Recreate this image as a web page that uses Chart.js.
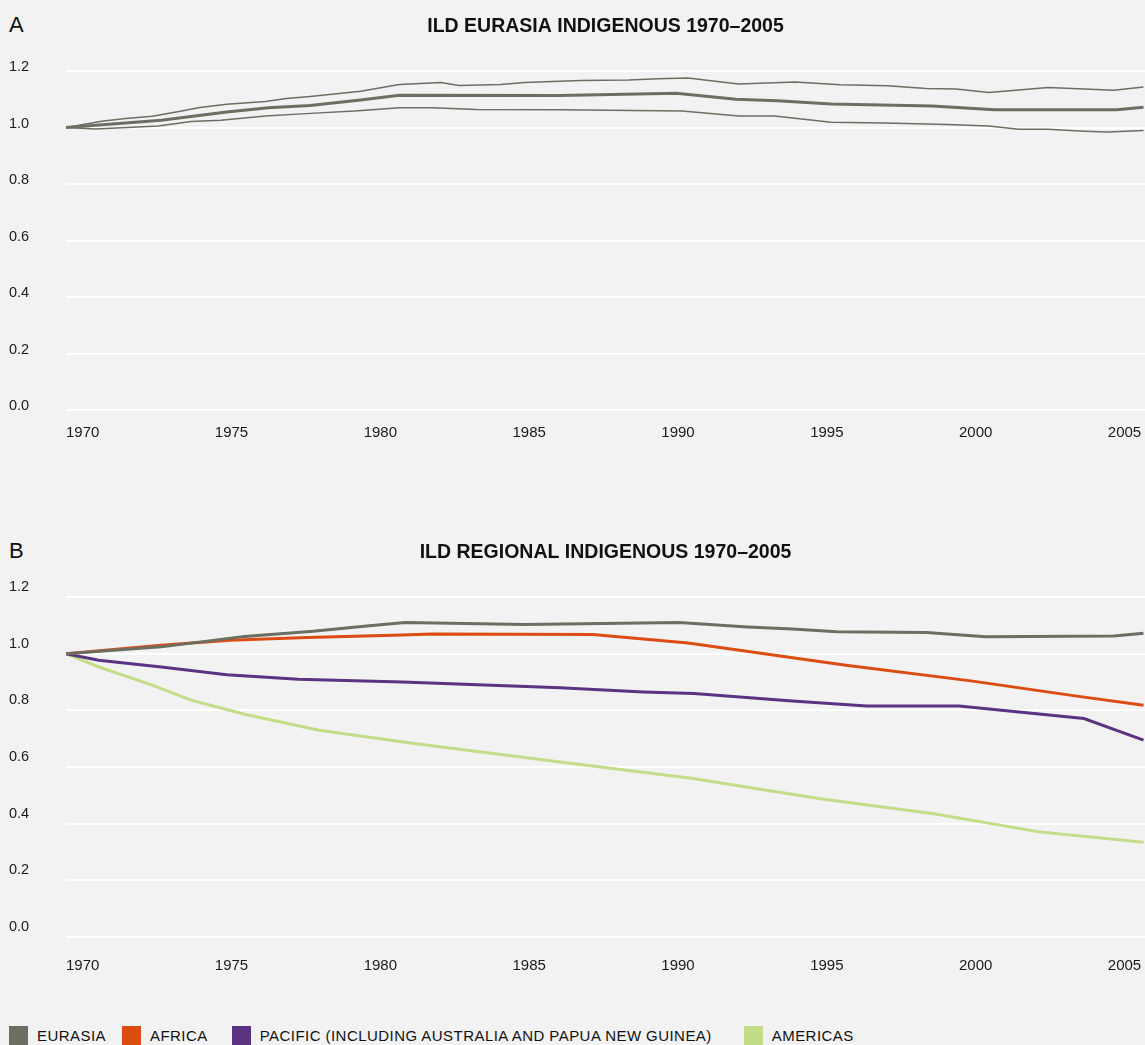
<!DOCTYPE html>
<html>
<head>
<meta charset="utf-8">
<script src="https://cdn.jsdelivr.net/npm/chart.js@4.4.1/dist/chart.umd.min.js"></script>
<style>
  html, body { margin: 0; padding: 0; background: #f2f2f2; }
  body { width: 1145px; height: 1045px; position: relative; overflow: hidden;
         font-family: "Liberation Sans", Arial, Helvetica, sans-serif; color: #111; }
  .letter { position: absolute; left: 9px; font-size: 22px; line-height: 22px; }
  canvas { position: absolute; left: 0; }
  #legend { position: absolute; left: 9px; top: 1026px; display: flex; align-items: center;
            font-size: 15px; letter-spacing: 0.45px; color: #111; }
  .item { display: flex; align-items: center; }
  .sw { width: 19px; height: 19px; margin-right: 9px; }
  .item:nth-child(1) { margin-right: 16px; }
  .item:nth-child(2) { margin-right: 24px; }
  .item:nth-child(3) { margin-right: 32px; }
</style>
</head>
<body>
<div class="letter" style="top:14px">A</div>
<div class="letter" style="top:540px">B</div>
<canvas id="chartA" width="1145" height="460" style="top:0"></canvas>
<canvas id="chartB" width="1145" height="470" style="top:526px"></canvas>
<div id="legend"></div>

<script>
// tick labels on the year axis
const tickYears = [1970, 1975, 1980, 1985, 1990, 1995, 2000, 2005]

// panel A: Eurasia with upper / lower bounds
const aUpperYears = [1970,1971.2,1972.0,1972.9,1973.8,1974.5,1975.4,1976.7,1977.4,1978.2,1979.9,1981.2,1982.6,1983.2,1984.6,1985.4,1987.3,1988.9,1989.9,1990.9,1991.6,1992.6,1994.5,1996.0,1997.6,1998.9,1999.9,2001.0,2003.0,2005.2,2006.2]
const aUpperValues = [1.0,1.022,1.032,1.040,1.057,1.071,1.082,1.092,1.103,1.110,1.128,1.152,1.159,1.149,1.152,1.159,1.166,1.168,1.173,1.175,1.166,1.154,1.161,1.151,1.148,1.138,1.136,1.124,1.142,1.132,1.143]

const aMidYears = [1970,1973.2,1975.4,1976.8,1978.2,1979.9,1981.2,1986.6,1990.5,1992.5,1993.9,1995.7,1999.1,2001.2,2005.3,2006.2]
const aMidValues = [1.0,1.026,1.055,1.070,1.078,1.097,1.114,1.113,1.121,1.100,1.095,1.083,1.076,1.063,1.063,1.072]

const aLowerYears = [1970,1971.0,1973.1,1974.2,1975.2,1976.7,1978.2,1979.7,1981.2,1982.3,1983.8,1986.6,1990.7,1992.6,1993.8,1995.7,1997.5,1999.6,2001.0,2002.0,2003.0,2004.2,2005.0,2006.2]
const aLowerValues = [1.0,0.995,1.005,1.021,1.026,1.041,1.050,1.058,1.070,1.070,1.064,1.063,1.058,1.041,1.041,1.019,1.016,1.011,1.005,0.994,0.994,0.987,0.984,0.989]

// panel B: regions
const regions = ['EURASIA', 'AFRICA', 'PACIFIC (INCLUDING AUSTRALIA AND PAPUA NEW GUINEA)', 'AMERICAS']
const regionColors = ['#6b6f61', '#dc4b12', '#5c3382', '#c2dc88']

const eurasiaYears = [1970,1973.2,1976.0,1978.3,1980.1,1981.4,1985.4,1990.6,1992.9,1994.4,1995.9,1998.9,2000.9,2005.2,2006.2]
const eurasiaValues = [1.0,1.024,1.061,1.079,1.098,1.110,1.103,1.110,1.094,1.087,1.077,1.075,1.060,1.062,1.072]

const africaYears = [1970,1973.2,1975.5,1978.1,1981.3,1982.3,1987.7,1990.9,1996.2,2000.4,2003.9,2006.2]
const africaValues = [1.0,1.030,1.047,1.057,1.066,1.069,1.068,1.038,0.959,0.904,0.851,0.818]

const pacificYears = [1970,1971.1,1973.2,1975.4,1977.8,1981.3,1986.6,1989.4,1991.1,1994.4,1996.9,2000.0,2004.2,2006.2]
const pacificValues = [1.0,0.977,0.953,0.926,0.910,0.900,0.880,0.865,0.859,0.833,0.815,0.815,0.771,0.695]

const americasYears = [1970,1971.1,1972.9,1974.2,1976.0,1978.5,1981.7,1986.6,1991.0,1995.4,1999.1,2002.7,2006.2]
const americasValues = [1.0,0.953,0.889,0.836,0.786,0.730,0.683,0.618,0.560,0.487,0.436,0.371,0.334]

const FONT = '"Liberation Sans", Arial, Helvetica, sans-serif'

const pts = (xs, ys) => xs.map((x, i) => ({x: x, y: ys[i]}))

const line = (xs, ys, color, width) => ({
    data: pts(xs, ys),
    borderColor: color,
    backgroundColor: color,
    borderWidth: width,
    pointRadius: 0,
    tension: 0,
    fill: false
})

// p: title text, title paddings, y label offset, x label padding, bottom padding
function makeChart(id, datasets, p) {
    return new Chart(document.getElementById(id), {
        type: 'line',
        data: { datasets: datasets },
        options: {
            responsive: false,
            animation: false,
            layout: { padding: { left: 9, right: 0, top: 0, bottom: p.bottom } },
            plugins: {
                legend: { display: false },
                tooltip: { enabled: false },
                title: {
                    display: true,
                    text: p.title,
                    fullSize: false,
                    color: '#111',
                    font: { family: FONT, size: 19.5, weight: 'bold' },
                    padding: { top: p.titleTop, bottom: p.titleBottom }
                }
            },
            scales: {
                x: {
                    type: 'linear',
                    min: 1970,
                    max: 2006.25,
                    grid: { display: false, drawTicks: false },
                    border: { display: false },
                    afterBuildTicks: s => { s.ticks = tickYears.map(v => ({value: v})) },
                    afterFit: s => { s.paddingLeft = 0; s.paddingRight = 0 },
                    ticks: {
                        align: 'start',
                        maxRotation: 0,
                        autoSkip: false,
                        padding: p.xPad,
                        color: '#1a1a1a',
                        font: { family: FONT, size: 15 },
                        callback: v => String(v)
                    }
                },
                y: {
                    min: 0,
                    max: 1.2,
                    grid: { color: '#ffffff', lineWidth: 2, drawTicks: false },
                    border: { display: false },
                    afterFit: s => { s.width = 57; s.paddingTop = 0; s.paddingBottom = 0 },
                    ticks: {
                        stepSize: 0.2,
                        crossAlign: 'far',
                        padding: 0,
                        labelOffset: p.yOffset,
                        color: '#1a1a1a',
                        font: { family: FONT, size: 14.5 },
                        callback: v => Number(v).toFixed(1)
                    }
                }
            }
        }
    })
}

makeChart('chartA', [
    line(aMidYears, aMidValues, regionColors[0], 3),
    line(aUpperYears, aUpperValues, regionColors[0], 1.5),
    line(aLowerYears, aLowerValues, regionColors[0], 1.5)
], { title: 'ILD EURASIA INDIGENOUS 1970–2005', titleTop: 15.3, titleBottom: 32.3,
     yOffset: -4, xPad: 14, bottom: 4 })

makeChart('chartB', [
    line(eurasiaYears, eurasiaValues, regionColors[0], 3),
    line(africaYears, africaValues, regionColors[1], 3),
    line(pacificYears, pacificValues, regionColors[2], 3),
    line(americasYears, americasValues, regionColors[3], 3)
], { title: 'ILD REGIONAL INDIGENOUS 1970–2005', titleTop: 14.8, titleBottom: 32.8,
     yOffset: -10, xPad: 20, bottom: 1 })

// legend
const legend = document.getElementById('legend')
regions.forEach((name, i) => {
    const item = document.createElement('div')
    item.className = 'item'
    const sw = document.createElement('span')
    sw.className = 'sw'
    sw.style.background = regionColors[i]
    item.appendChild(sw)
    item.appendChild(document.createTextNode(name))
    legend.appendChild(item)
})
</script>
</body>
</html>
